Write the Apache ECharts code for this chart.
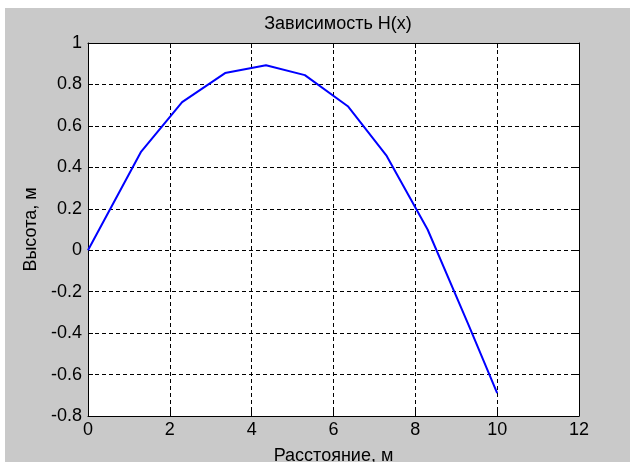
<!DOCTYPE html>
<html>
<head>
<meta charset="utf-8">
<script src="https://cdn.jsdelivr.net/npm/echarts@6/dist/echarts.min.js"></script>
<style>
  html, body { margin: 0; padding: 0; background: #fff; }
  #chart {
    position: absolute;
    left: 5px;
    top: 8px;
    width: 625px;
    height: 454px;
    background: #c9c9c9;
  }
</style>
</head>
<body>
<div id="chart"></div>
<script>
// distance, m
const xValues = [0, 1.3, 2.3, 3.35, 4.35, 5.3, 6.35, 7.3, 8.3, 9.3, 10]
// height, m
const hValues = [0, 0.476, 0.715, 0.855, 0.893, 0.845, 0.695, 0.455, 0.1, -0.36, -0.69]

const xRange = { min: 0, max: 12, interval: 2 }
const yRange = { min: -0.8, max: 1, interval: 0.2 }

const titleText = 'Зависимость H(x)'
const xName = 'Расстояние, м'
const yName = 'Высота, м'

const font = '"Liberation Sans", Arial, sans-serif'
const chart = echarts.init(document.getElementById('chart'))

const fmt = v => String(parseFloat(v.toFixed(1)))

const tick = { show: true, inside: true, length: 5, lineStyle: { color: '#000' } }
const axisLine = { show: true, onZero: false, lineStyle: { color: '#000', width: 1 } }
const grid = { show: true, type: [4, 3], color: '#000', width: 1 }

chart.setOption({
  animation: false,
  title: {
    text: titleText,
    left: 328,
    textAlign: 'center',
    top: 2,
    textStyle: { fontFamily: font, fontSize: 18, fontWeight: 'normal', color: '#000' }
  },
  grid: {
    left: 83, top: 35, width: 491, height: 373,
    containLabel: false,
    outerBoundsMode: 'none',
    show: true, backgroundColor: '#fff', borderWidth: 0
  },
  xAxis: [{
    type: 'value', ...xRange,
    position: 'bottom',
    name: xName, nameLocation: 'middle', nameGap: 31,
    nameTextStyle: { fontFamily: font, fontSize: 18, color: '#000' },
    axisLine, axisTick: tick,
    axisLabel: { fontFamily: font, fontSize: 18, color: '#000', margin: 5, formatter: fmt },
    splitLine: { lineStyle: grid }
  }, {
    type: 'value', ...xRange,
    position: 'top',
    axisLine, axisTick: tick,
    axisLabel: { show: false },
    splitLine: { show: false }
  }],
  yAxis: [{
    type: 'value', ...yRange,
    position: 'left',
    name: yName, nameLocation: 'middle', nameGap: 41,
    nameTextStyle: { fontFamily: font, fontSize: 18, color: '#000' },
    axisLine, axisTick: tick,
    axisLabel: { fontFamily: font, fontSize: 18, color: '#000', margin: 6, formatter: fmt },
    splitLine: { lineStyle: grid }
  }, {
    type: 'value', ...yRange,
    position: 'right',
    axisLine, axisTick: tick,
    axisLabel: { show: false },
    splitLine: { show: false }
  }],
  series: [{
    type: 'line',
    xAxisIndex: 0,
    yAxisIndex: 0,
    data: xValues.map((x, i) => [x, hValues[i]]),
    showSymbol: false,
    lineStyle: { color: '#0000ff', width: 2 },
    z: 3
  }]
})
</script>
</body>
</html>
